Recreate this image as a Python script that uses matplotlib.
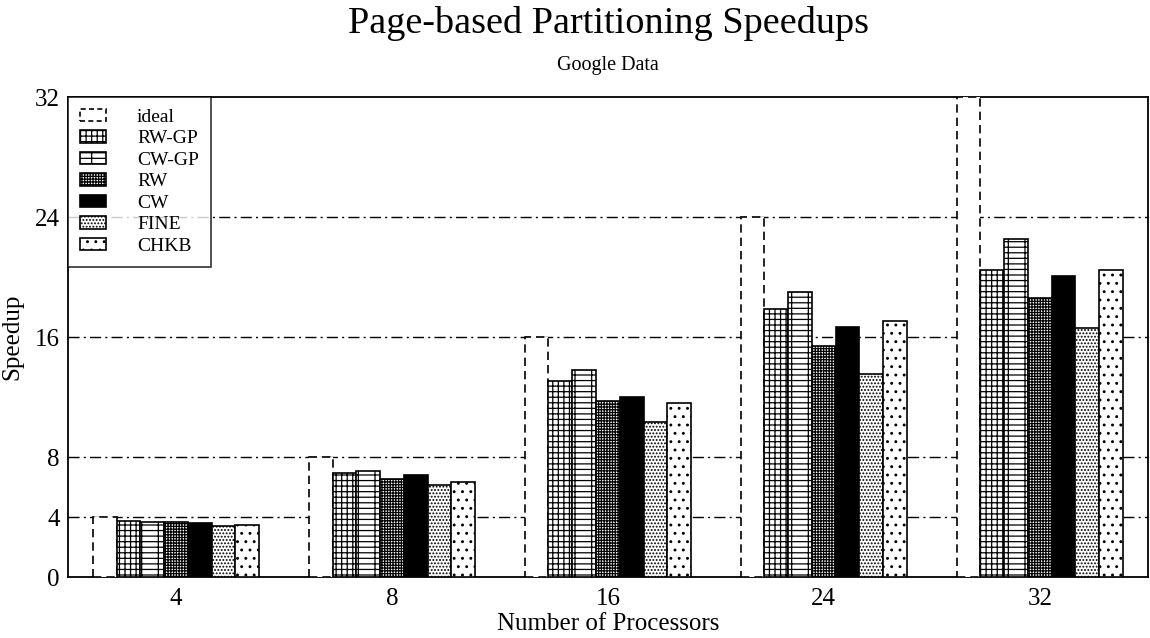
import numpy as np
import matplotlib.pyplot as plt
from matplotlib.patches import Patch

plt.rcParams['font.family'] = ['Liberation Serif', 'DejaVu Serif']
plt.rcParams['hatch.linewidth'] = 0.9

# data
procs = ['4', '8', '16', '24', '32']
series = ['ideal', 'RW-GP', 'CW-GP', 'RW', 'CW', 'FINE', 'CHKB']
ideal = [4, 8, 16, 24, 32]
rw_gp = [3.73, 6.96, 13.07, 17.87, 20.47]
cw_gp = [3.64, 7.09, 13.78, 19.0, 22.53]
rw = [3.64, 6.51, 11.73, 15.4, 18.58]
cw = [3.62, 6.78, 12.0, 16.67, 20.07]
fine = [3.42, 6.13, 10.33, 13.53, 16.64]
chkb = [3.44, 6.33, 11.58, 17.07, 20.47]
yticks = [0, 4, 8, 16, 24, 32]

values = [ideal, rw_gp, cw_gp, rw, cw, fine, chkb]
hatches = [None, '+++', '---|', '++++++', None, '.....', '..']
faces = ['white', 'white', 'white', 'white', 'black', 'white', 'white']

fig = plt.figure(figsize=(11.5, 6.38), dpi=100)
ax = fig.add_axes([0.0591, 0.0956, 0.939, 0.752])

x = np.arange(len(procs)) + 0.5
w = 0.11
handles = []
for k, (name, vals) in enumerate(zip(series, values)):
    pos = x + (k - 3) * w
    if name == 'ideal':
        ax.bar(pos, vals, w, facecolor='white', edgecolor='black',
               linestyle=(0, (5, 3)), linewidth=1.2, zorder=3)
        handles.append(Patch(facecolor='white', edgecolor='black',
                             linestyle=(0, (3, 2)), linewidth=1.2, label=name))
    else:
        ax.bar(pos, vals, w, facecolor=faces[k], edgecolor='black',
               hatch=hatches[k], linewidth=1.2, zorder=3)
        handles.append(Patch(facecolor=faces[k], edgecolor='black',
                             hatch=hatches[k], linewidth=1.2, label=name))

ax.set_xlim(0, len(procs))
ax.set_ylim(0, 32)
ax.set_xticks(x)
ax.set_xticklabels(procs, fontsize=18)
ax.set_yticks(yticks)
ax.set_yticklabels([str(t) for t in yticks], fontsize=18)
ax.tick_params(axis='y', direction='in', length=0, pad=6)
ax.tick_params(axis='x', direction='in', length=0, pad=8)
for t in [4, 8, 16, 24]:
    ax.axhline(t, color='black', linestyle=(0, (8, 3, 1.5, 3)), linewidth=1.0, zorder=1)
for s in ax.spines.values():
    s.set_linewidth(1.3)

ax.set_xlabel('Number of Processors', fontsize=18, labelpad=2)
ax.set_ylabel('Speedup', fontsize=18, labelpad=8)

fig.text(0.5287, 0.948, 'Page-based Partitioning Speedups', ha='center', va='baseline', fontsize=27.5)
fig.text(0.5287, 0.8966, 'Google Data', ha='center', va='center', fontsize=14.5)

leg = ax.legend(handles=handles, loc='upper left', fontsize=14, frameon=True,
                fancybox=False, borderaxespad=0.0, handlelength=1.35,
                handleheight=0.6, labelspacing=0.23, handletextpad=1.6,
                borderpad=0.6)
leg.get_frame().set_edgecolor('black')
leg.get_frame().set_linewidth(1.2)

fig.savefig('out.png', dpi=100)
